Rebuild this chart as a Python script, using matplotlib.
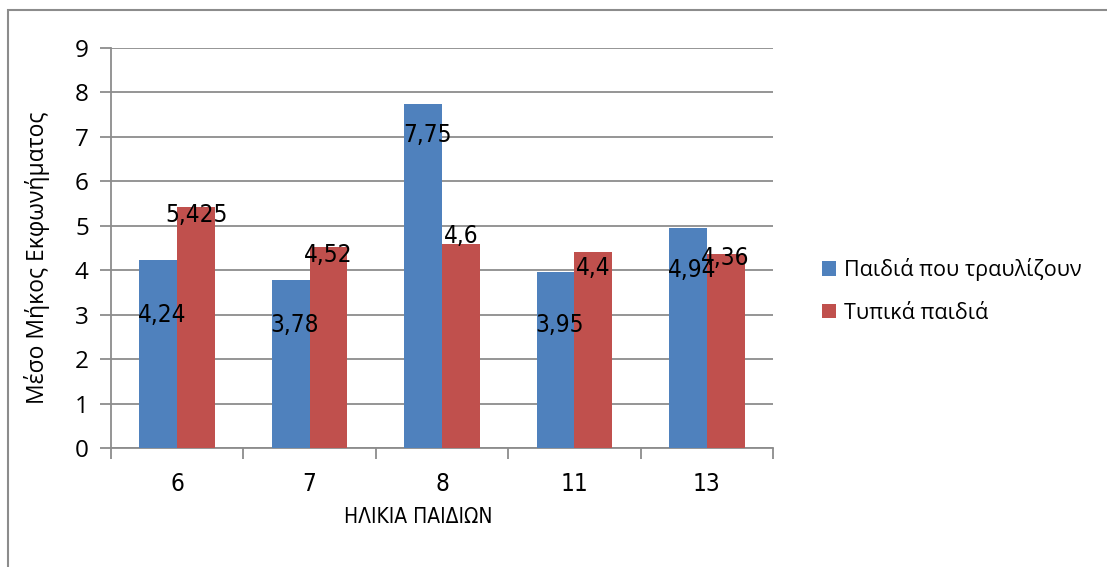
import matplotlib.pyplot as plt
from matplotlib.patches import Rectangle
import numpy as np

ages = ['6', '7', '8', '11', '13']
stutter = [4.24, 3.78, 7.75, 3.95, 4.94]
typical = [5.425, 4.52, 4.6, 4.4, 4.36]
series_names = ['Παιδιά που τραυλίζουν', 'Τυπικά παιδιά']

# where excel put the data labels (data units)
lab_y_stutter = [2.99, 2.77, 7.04, 2.77, 4.0]
lab_y_typical = [5.24, 4.34, 4.77, 4.05, 4.28]

blue = '#4f81bd'
red = '#c0504d'
grid_c = '#8c8c8c'

fig = plt.figure(figsize=(11.07, 5.67), dpi=100)
ax = fig.add_axes([111/1107, 1-448/567, (773-111)/1107, 400/567])

# outer chart frame
fig.patches.append(Rectangle((8/1107, -0.05), 1.2, 1-10/567+0.05, transform=fig.transFigure,
                             fill=False, edgecolor='#8c8c8c', lw=1.5))

x = np.arange(len(ages))
w = 0.285
ax.bar(x - w/2, stutter, w, color=blue, label=series_names[0], zorder=3)
ax.bar(x + w/2, typical, w, color=red, label=series_names[1], zorder=3)

narrow = dict(family='DejaVu Sans', stretch='condensed')
for i in range(len(ages)):
    ax.text(x[i] - w/2 + 0.03, lab_y_stutter[i], ('%g' % stutter[i]).replace('.', ','),
            ha='center', va='center', zorder=5, fontsize=17.5, **narrow)
    ax.text(x[i] + w/2, lab_y_typical[i], ('%g' % typical[i]).replace('.', ','),
            ha='center', va='center', zorder=5, fontsize=17.5, **narrow)

ax.set_xlim(-0.5, len(ages) - 0.5)
ax.set_ylim(0, 9)
ax.set_yticks(range(10))
ax.yaxis.grid(True, color=grid_c, lw=1.3, zorder=0)
ax.set_xticks(np.arange(-0.5, len(ages), 1))
ax.set_xticklabels([])
ax.set_xticks(x, minor=True)
ax.set_xticklabels(ages, minor=True, fontsize=17.5, **narrow)
ax.tick_params(axis='x', which='major', length=8, color=grid_c, width=1.3, direction='out')
ax.tick_params(axis='x', which='minor', length=0, pad=17)
ax.tick_params(axis='y', length=8, color=grid_c, width=1.3, labelsize=17.5, pad=8)
for t in ax.get_yticklabels():
    t.set_family('Open Sans')

for s in ['top', 'right']:
    ax.spines[s].set_visible(False)
for s in ['left', 'bottom']:
    ax.spines[s].set_color(grid_c)
    ax.spines[s].set_linewidth(1.3)

fig.text(418/1107, 1-517/567, 'ΗΛΙΚΙΑ ΠΑΙΔΙΩΝ', ha='center', va='center',
         fontsize=15, **narrow)
fig.text(37/1107, 1-258/567, 'Μέσο Μήκος Εκφωνήματος', ha='center', va='center',
         rotation=90, fontsize=16.5, family='Open Sans')

ax.legend(loc='center left', bbox_to_anchor=(803/1107, 1-291/567), bbox_transform=fig.transFigure,
          frameon=False, prop={'family': 'Open Sans', 'size': 15.5},
          handlelength=0.65, handleheight=0.65, handletextpad=0.35, labelspacing=1.0)

fig.savefig('out.png', dpi=100)
